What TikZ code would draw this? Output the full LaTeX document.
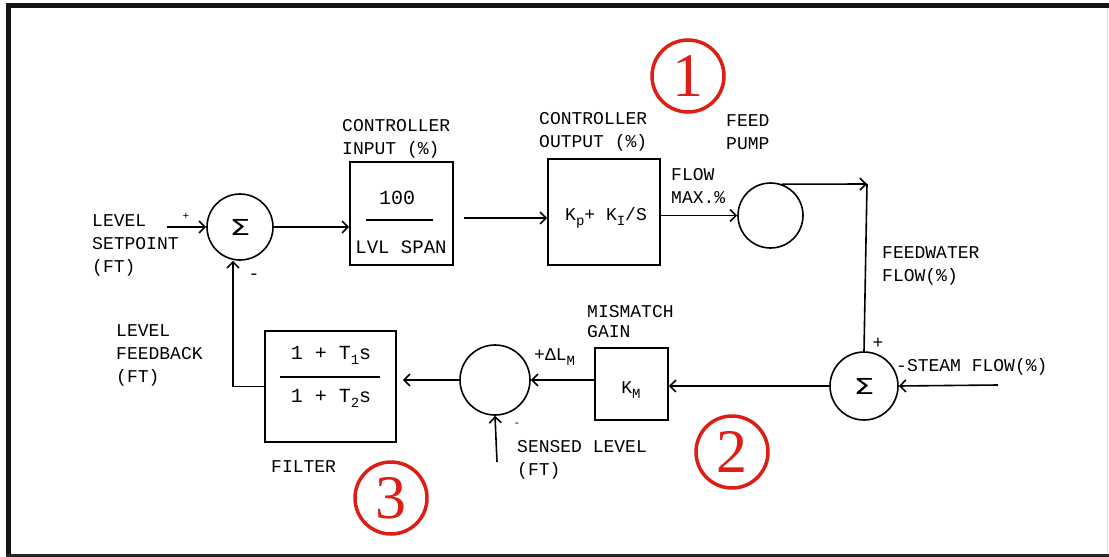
\documentclass[tikz,border=0pt]{standalone}
\usepackage{fontspec}
\usepackage{graphicx}
\setmainfont{Liberation Mono}
\newfontfamily\numfont{Liberation Serif}
\newfontfamily\symfont{DejaVu Sans}
\newcommand{\lowsub}[1]{\raisebox{-5pt}{\fontsize{14}{14}\selectfont #1}}
\newcommand{\sumsym}{{\symfont\fontsize{22}{22}\selectfont\scalebox{1.5}[1]{Σ}}}
\usetikzlibrary{arrows.meta,calc}
\begin{document}
\begin{tikzpicture}[x=1pt,y=-1pt,
  lbl/.style={font=\fontsize{18}{23}\selectfont, inner sep=0pt, align=left},
  blk/.style={draw, line width=1.6pt, inner sep=0pt},
  sumc/.style={draw, circle, line width=1.6pt, minimum size=66pt, inner sep=0pt},
  wire/.style={line width=1.6pt},
  flow/.style={wire, -{Straight Barb[length=6pt,width=12pt,line width=1.6pt]}},
  tagc/.style={draw=tagred, text=tagred, circle, line width=3.5pt, minimum size=72pt, inner sep=0pt, font=\numfont\fontsize{62}{62}\selectfont}
]
\definecolor{tagred}{RGB}{222,30,20}
\useasboundingbox (0,0) rectangle (1109,557);
\fill[white] (0,0) rectangle (1109,557);
% frame
\fill[black!92] (6,3.3) rectangle (1109,8.3);
\fill[black!92] (6,3.3) rectangle (11,557);
\fill[black!85] (6,554) rectangle (1109,557);
\draw[black!12, line width=1pt] (1107,8) -- (1107,554);

% blocks
\node[sumc] (sum1) at (240,227) {\sumsym};
\node[blk, minimum width=103pt, minimum height=103pt] (box1) at (401.5,213.5) {};
\node[blk, minimum width=112pt, minimum height=106pt] (box2) at (604,212) {};
\node[sumc, minimum size=65pt] (pump) at (770.5,215.5) {};
\node[sumc, minimum size=68pt] (sum2) at (864,386) {\sumsym};
\node[blk, minimum width=73pt, minimum height=72pt] (km) at (631.5,384) {};
\node[sumc, minimum size=70pt] (sum3) at (495,380) {};
\node[blk, minimum width=131pt, minimum height=111pt] (filter) at (330.5,386.5) {};

% block contents
\node[lbl, font=\fontsize{20}{20}\selectfont] (num1) at (397,198) {100};
\node[lbl, font=\fontsize{19}{20}\selectfont] (den1) at (401,247) {LVL SPAN};
\draw[wire] (366,220) -- (433,220);
\node[lbl] (pi) at (606,218) {K\lowsub{p}+ K\lowsub{I}/S};
\node[lbl] (kmt) at (631,390) {K\lowsub{M}};
\node[lbl, font=\fontsize{20}{20}\selectfont] (num2) at (331,355) {1 + T\lowsub{1}s};
\node[lbl, font=\fontsize{20}{20}\selectfont] (den2) at (331,398) {1 + T\lowsub{2}s};
\draw[wire] (280,377) -- (380,377);

% connectors
\coordinate (sp) at (167,227);
\draw[flow] (sp) -- (sum1.west);
\draw[flow] (sum1.east) -- (sum1 -| box1.west);
\coordinate (b1o) at ($(box1.east)+(10,4.5)$);
\draw[flow] (b1o) -- (b1o -| box2.west);
\draw[flow] (box2.east |- pump) -- (pump.west);
\coordinate (corner) at (867,184);
\draw[flow] (pump.70) -- (corner);
\draw[wire] (corner) -- (sum2.north);
\coordinate (st) at (998,385);
\draw[flow] (st) -- (sum2.east);
\draw[flow] (sum2.west) -- (sum2 -| km.east);
\draw[flow] (km.west |- sum3) -- (sum3.east);
\draw[flow, shorten >=6pt] (sum3.west) -- (sum3 -| filter.east);
\draw[flow] (filter.west) -| ([xshift=-7pt]sum1.south);
\coordinate (sl) at (497,462);
\draw[flow] (sl) -- (sum3.south);

% labels
\node[lbl, anchor=west] (lsp) at (92,245) {LEVEL\\SETPOINT\\(FT)};
\node[lbl] (plus1) at (186,216) {\fontsize{11}{11}\selectfont +};
\node[lbl] (minus1) at (254,277) {-};
\node[lbl, anchor=west] (cin) at (342,139) {CONTROLLER\\INPUT (\%)};
\node[lbl, anchor=west] (cout) at (539,131.5) {CONTROLLER\\OUTPUT (\%)};
\node[lbl, anchor=west] (fmax) at (671,186) {FLOW\\MAX.\%};
\node[lbl, anchor=west] (fp) at (726,132.5) {FEED\\PUMP};
\node[lbl, anchor=west] (fw) at (882,266) {FEEDWATER\\FLOW(\%)};
\node[lbl] (plus2) at (878,343) {+};
\node[lbl, anchor=west] (stm) at (896,367) {-STEAM FLOW(\%)};
\node[lbl, anchor=west, font=\fontsize{18}{20}\selectfont] (mg) at (587,322) {MISMATCH\\GAIN};
\node[lbl, anchor=west] (dl) at (534,357) {+ΔL\lowsub{M}};
\node[lbl] (minus3) at (517,425) {\fontsize{11}{11}\selectfont -};
\node[lbl, anchor=west] (sens) at (517,460) {SENSED LEVEL\\(FT)};
\node[lbl, anchor=west] (lfb) at (116,355.5) {LEVEL\\FEEDBACK\\(FT)};
\node[lbl, anchor=west] (flt) at (271,467) {FILTER};

% circled numbers
\node[tagc] (t1) at (688,76) {1};
\node[tagc] (t2) at (732,452) {2};
\node[tagc] (t3) at (391,498) {3};
\end{tikzpicture}
\end{document}
